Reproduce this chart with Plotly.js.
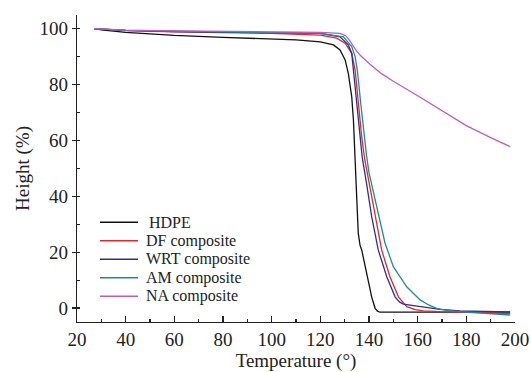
<!DOCTYPE html>
<html>
<head>
<meta charset="utf-8">
<script src="https://cdn.plot.ly/plotly-3.0.1.min.js"></script>
<style>html,body{margin:0;padding:0;background:#fff}#chart{width:531px;height:372px}</style>
</head>
<body>
<div id="chart"></div>
<script>
// Series names and colours
const seriesNames = ["HDPE", "DF composite", "WRT composite", "AM composite", "NA composite"];
const seriesColors = ["#111111", "#e3262c", "#2c2f94", "#1f8c8c", "#bb5cc2"];

// HDPE
const hdpeX = [27, 30, 40, 50, 60, 80, 100, 110, 120, 125.4, 128.1, 130.2, 131.5, 132.9, 133.6, 134.3, 135.0, 135.6, 136.3, 137.0, 139.1, 141.1, 142.5, 143.5, 144.5, 160, 180, 198];
const hdpeY = [100, 99.6, 98.7, 98.1, 97.6, 96.9, 96.4, 96.0, 95.3, 94.2, 92.4, 88.8, 84.0, 75.7, 67.3, 55.4, 38.7, 26.7, 22.5, 20.8, 12.4, 4.0, -0.1, -1.1, -1.5, -1.5, -1.5, -1.5];

// DF composite
const dfX = [27, 40, 60, 80, 100, 120, 126.7, 130.2, 132.9, 134.3, 135.6, 137.0, 138.2, 140.4, 142.5, 145.2, 148.6, 152.1, 155.5, 159.0, 162.3, 169.2, 185, 198];
const dfY = [100, 99.3, 98.9, 98.6, 98.3, 97.7, 96.6, 94.8, 91.2, 85.2, 73.3, 61.3, 53.5, 43.5, 32.7, 20.8, 11.2, 4.0, 0.5, -0.6, -1.0, -1.3, -1.6, -2.0];

// WRT composite
const wrtX = [27, 40, 60, 80, 100, 120, 128.1, 131.5, 132.9, 133.6, 135.0, 136.3, 137.2, 139.1, 141.1, 143.8, 147.3, 150.7, 152.5, 154.1, 158, 162.3, 169.2, 177.4, 190, 198];
const wrtY = [100, 99.4, 99.0, 98.8, 98.6, 98.3, 97.1, 94.2, 91.2, 85.2, 73.3, 61.3, 54.0, 44.0, 32.7, 20.8, 11.2, 4.0, 2.2, 1.4, 0.9, 0.5, -0.5, -1.0, -1.3, -1.4];

// AM composite
const amX = [27, 40, 60, 80, 100, 120, 129.5, 132.9, 134.3, 135.2, 136.6, 138.0, 139.0, 140.0, 141.8, 143.8, 146.6, 150.0, 155.5, 161.0, 164.5, 167.8, 172, 177.4, 188, 198];
const amY = [100, 99.4, 99.1, 98.9, 98.7, 98.3, 97.1, 93.6, 90.0, 85.2, 73.3, 61.3, 54.5, 48.5, 41.5, 34.5, 23.2, 14.8, 7.6, 2.9, 1.1, -0.1, -0.8, -1.3, -2.0, -2.5];

// NA composite
const naX = [27, 40, 60, 80, 100, 120, 128.1, 130.5, 132.0, 133.6, 135.0, 136.5, 138.2, 140.4, 145, 150, 160, 170, 180, 190, 198];
const naY = [100, 99.5, 99.2, 99.0, 98.9, 98.7, 98.3, 97.4, 95.8, 93.6, 91.9, 90.4, 89.0, 87.3, 84.0, 81.2, 76.0, 70.5, 65.3, 61.0, 57.8];

const xs = [hdpeX, dfX, wrtX, amX, naX];
const ys = [hdpeY, dfY, wrtY, amY, naY];

const FONT = "'Liberation Serif', 'Times New Roman', Times, serif";

const traces = seriesNames.map((n, i) => ({
  type: "scatter", mode: "lines", name: n,
  x: xs[i], y: ys[i],
  line: {color: seriesColors[i], width: 1.3},
  showlegend: false
}));

// custom compact legend (paper coordinates)
const shapes = [], annotations = [];
const legTop = 0.325, legStep = 0.0603;
seriesNames.forEach((n, i) => {
  const yy = legTop - i * legStep;
  shapes.push({type: "line", xref: "paper", yref: "paper", x0: 0.0525, x1: 0.1393, y0: yy, y1: yy,
    line: {color: seriesColors[i], width: 1.3}});
  annotations.push({xref: "paper", yref: "paper", x: i === 0 ? 0.162 : 0.1553, y: yy,
    xanchor: "left", yanchor: "middle", showarrow: false, text: n, borderpad: 0,
    font: {family: FONT, size: 16, color: "#222"}});
});

const layout = {
  width: 531, height: 372,
  margin: {l: 77, r: 16, t: 15, b: 50},
  paper_bgcolor: "#fff", plot_bgcolor: "#fff",
  font: {family: FONT, color: "#222"},
  xaxis: {
    range: [20, 200], dtick: 20, tick0: 0,
    showline: true, linecolor: "#222", linewidth: 1.2,
    ticks: "inside", ticklen: 6, tickcolor: "#222", tickwidth: 1.2,
    minor: {dtick: 10, ticks: "inside", ticklen: 3, tickcolor: "#222", tickwidth: 1.2},
    showgrid: false, zeroline: false,
    tickfont: {family: FONT, size: 19, color: "#222"},
    title: {text: "Temperature (°)", font: {family: FONT, size: 19, color: "#222"}, standoff: 9}
  },
  yaxis: {
    range: [-5, 104.9], dtick: 20, tick0: 0,
    showline: true, linecolor: "#222", linewidth: 1.2,
    ticks: "outside", ticklen: 4, tickcolor: "#222", tickwidth: 1.2,
    minor: {dtick: 10, ticks: "inside", ticklen: 3, tickcolor: "#222", tickwidth: 1.2},
    showgrid: false, zeroline: false,
    tickfont: {family: FONT, size: 19, color: "#222"},
    title: {text: "Height (%)", font: {family: FONT, size: 19, color: "#222"}, standoff: 4}
  },
  shapes: shapes,
  annotations: annotations
};

Plotly.newPlot("chart", traces, layout, {displayModeBar: false, staticPlot: true});
</script>
</body>
</html>
